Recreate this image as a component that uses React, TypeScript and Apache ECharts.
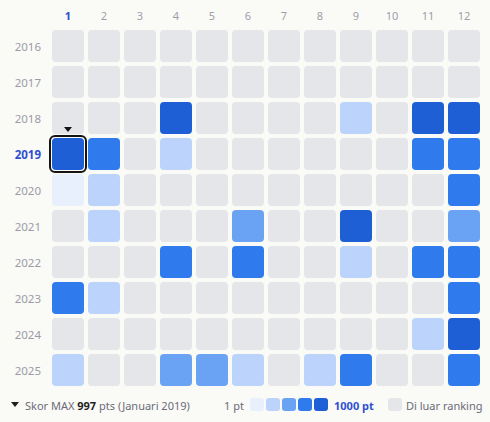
import React, { useEffect, useRef } from "react";
import * as echarts from "echarts";

const months = ["1", "2", "3", "4", "5", "6", "7", "8", "9", "10", "11", "12"];
const years = ["2016", "2017", "2018", "2019", "2020", "2021", "2022", "2023", "2024", "2025"];

// monthly points per year (0 = out of ranking)
const s2016 = [0, 0, 0, 0, 0, 0, 0, 0, 0, 0, 0, 0];
const s2017 = [0, 0, 0, 0, 0, 0, 0, 0, 0, 0, 0, 0];
const s2018 = [0, 0, 0, 905, 0, 0, 0, 0, 260, 0, 880, 920];
const s2019 = [997, 720, 0, 240, 0, 0, 0, 0, 0, 0, 690, 700];
const s2020 = [60, 250, 0, 0, 0, 0, 0, 0, 0, 0, 0, 660];
const s2021 = [0, 230, 0, 0, 0, 480, 0, 0, 860, 0, 0, 470];
const s2022 = [0, 0, 0, 710, 0, 680, 0, 0, 270, 0, 700, 690];
const s2023 = [730, 280, 0, 0, 0, 0, 0, 0, 0, 0, 0, 650];
const s2024 = [0, 0, 0, 0, 0, 0, 0, 0, 0, 0, 300, 890];
const s2025 = [270, 0, 0, 500, 450, 260, 0, 240, 740, 0, 0, 670];
const scoreRows = [s2016, s2017, s2018, s2019, s2020, s2021, s2022, s2023, s2024, s2025];

const levelLimits = [200, 400, 600, 800];
const levelColors = ["#e8f0fe", "#bcd4fb", "#6aa3f4", "#2f7bed", "#1e5fd5"];
const OUT_COLOR = "#e5e6ea";
const BG = "#fafaf7";
const ACCENT = "#2f4fd0";
const FONT = "'Noto Sans', sans-serif";
const LEG_FS = 11;

function colorFor(v: number) {
  if (!v) return OUT_COLOR;
  let i = 0;
  while (i < levelLimits.length && v >= levelLimits[i]) i++;
  return levelColors[i];
}

export default function App() {
  const ref = useRef<HTMLDivElement>(null);
  useEffect(() => {
    document.body.style.margin = "0";
    document.body.style.background = BG;
    const chart = echarts.init(ref.current!, null, { renderer: "svg" });

    const data: number[][] = [];
    let maxV = 0;
    let maxM = 0;
    let maxY = 0;
    scoreRows.forEach((row, yi) =>
      row.forEach((v, mi) => {
        data.push([mi, yi, v]);
        if (v > maxV) {
          maxV = v;
          maxM = mi;
          maxY = yi;
        }
      })
    );

    const legendX = 250;
    const sq = 14;
    const pitch = 16;
    const legendGraphics: any[] = [
      {
        type: "polygon",
        shape: { points: [[11, 402], [19, 402], [15, 407]] },
        style: { fill: "#1f1f1f" },
      },
      {
        type: "text",
        x: 25,
        y: 405,
        style: {
          text: `{g|Skor MAX }{b|${maxV}}{g| pts (Januari ${years[maxY]})}`,
          verticalAlign: "middle",
          font: `${LEG_FS}px ${FONT}`,
          rich: {
            g: { fill: "#6b6b78", fontSize: LEG_FS, fontFamily: "Noto Sans" },
            b: { fill: "#1f1f1f", fontSize: LEG_FS, fontWeight: "bold", fontFamily: "Noto Sans" },
          },
        },
      },
      {
        type: "text",
        x: legendX - 6,
        y: 405,
        style: {
          text: "1 pt",
          align: "right",
          verticalAlign: "middle",
          fill: "#6b6b78",
          font: `${LEG_FS}px ${FONT}`,
        },
      },
    ];
    levelColors.forEach((c, i) => {
      legendGraphics.push({
        type: "rect",
        shape: { x: legendX + i * pitch, y: 398, width: sq, height: 13, r: 3 },
        style: { fill: c },
      });
    });
    legendGraphics.push(
      {
        type: "text",
        x: legendX + 5 * pitch + 4,
        y: 405,
        style: {
          text: "1000 pt",
          verticalAlign: "middle",
          fill: ACCENT,
          font: `bold ${LEG_FS}px ${FONT}`,
        },
      },
      {
        type: "rect",
        shape: { x: 388, y: 398, width: sq, height: 13, r: 3 },
        style: { fill: OUT_COLOR },
      },
      {
        type: "text",
        x: 406,
        y: 405,
        style: {
          text: "Di luar ranking",
          verticalAlign: "middle",
          fill: "#6b6b78",
          font: `${LEG_FS}px ${FONT}`,
        },
      }
    );

    chart.setOption({
      animation: false,
      backgroundColor: BG,
      textStyle: { fontFamily: FONT },
      grid: { left: 50, right: 8, top: 28, bottom: 34 },
      xAxis: {
        type: "category",
        data: months,
        position: "top",
        axisLine: { show: false },
        axisTick: { show: false },
        splitLine: { show: false },
        axisLabel: {
          margin: 7,
          color: "#9ca0ab",
          fontSize: 11,
          formatter: (v: string) => (v === months[maxM] ? `{h|${v}}` : v),
          rich: { h: { color: ACCENT, fontWeight: "bold", fontSize: 11 } },
        },
      },
      yAxis: {
        type: "category",
        data: years,
        inverse: true,
        axisLine: { show: false },
        axisTick: { show: false },
        splitLine: { show: false },
        axisLabel: {
          margin: 9,
          color: "#9b9aa6",
          fontSize: 11.5,
          formatter: (v: string) => (v === years[maxY] ? `{h|${v}}` : v),
          rich: { h: { color: ACCENT, fontWeight: "bold", fontSize: 11.5 } },
        },
      },
      series: [
        {
          type: "custom",
          data,
          renderItem: (params: any, api: any) => {
            const mi = api.value(0);
            const yi = api.value(1);
            const v = api.value(2);
            const c = api.coord([mi, yi]);
            const s = api.size([1, 1]);
            const x0 = c[0] - s[0] / 2;
            const y0 = c[1] - s[1] / 2;
            const children: any[] = [
              {
                type: "rect",
                shape: { x: x0 + 2, y: y0 + 2, width: s[0] - 4, height: s[1] - 4, r: 4 },
                style: { fill: colorFor(v) },
              },
            ];
            if (v === maxV && v > 0) {
              children.push(
                {
                  type: "rect",
                  shape: { x: x0, y: y0, width: s[0], height: s[1], r: 5 },
                  style: { fill: "none", stroke: "#141414", lineWidth: 2 },
                },
                {
                  type: "polygon",
                  shape: {
                    points: [
                      [c[0] - 4, y0 - 9],
                      [c[0] + 4, y0 - 9],
                      [c[0], y0 - 4],
                    ],
                  },
                  style: { fill: "#141414" },
                }
              );
            }
            return { type: "group", children };
          },
        },
      ],
      graphic: legendGraphics,
    });
    return () => chart.dispose();
  }, []);
  return <div ref={ref} style={{ width: 490, height: 422, background: BG }} />;
}
